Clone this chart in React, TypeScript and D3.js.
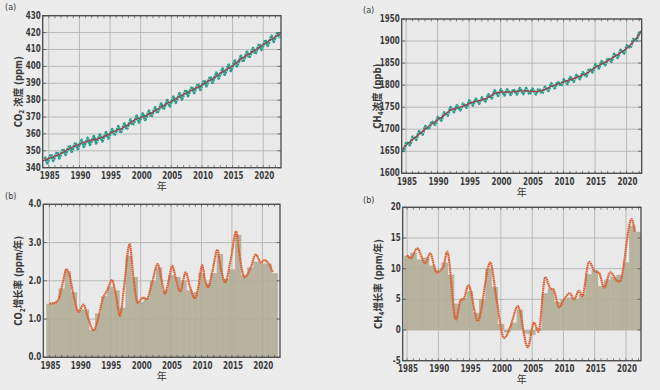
import React from "react";
import * as d3 from "d3";

const W = 660;
const H = 390;
const FONT = "'Liberation Sans Narrow','DejaVu Sans Condensed','Noto Sans CJK SC',sans-serif";

// ---- (a) CO2: deseasonalised trend at Jan of each year, plus seasonal max/min
const co2TrendYears = [...d3.range(1984, 2023), 2022.9];
const co2Trend = [
  344.0, 345.5, 346.9, 348.4, 350.6, 352.4, 353.9, 355.2, 356.3, 357.1,
  358.4, 360.2, 362.0, 363.4, 365.6, 368.2, 369.6, 371.1, 372.9, 375.2,
  377.4, 379.2, 381.4, 383.4, 385.4, 387.1, 389.0, 391.3, 393.2, 396.0,
  398.1, 400.3, 403.3, 405.8, 408.0, 410.4, 412.9, 415.3, 417.6, 419.6,
];
const co2CycleYears = d3.range(1984, 2023);
const co2PeakPhase = 0.35;
const co2TroughPhase = 0.72;
const co2Peak = [
  346.5, 348.0, 349.4, 351.2, 353.2, 354.9, 356.4, 357.6, 358.6, 359.6,
  361.0, 362.8, 364.5, 366.2, 368.5, 370.7, 372.1, 373.7, 375.7, 378.0,
  380.0, 382.0, 384.1, 386.1, 388.0, 389.8, 391.8, 394.0, 396.2, 398.7,
  400.9, 403.4, 406.2, 408.6, 410.8, 413.3, 415.7, 418.1, 420.3,
];
const co2Trough = [
  342.7, 344.1, 345.6, 347.6, 349.5, 351.1, 352.4, 353.6, 354.5, 355.6,
  357.3, 359.1, 360.6, 362.6, 365.1, 366.8, 368.3, 370.0, 372.2, 374.4,
  376.3, 378.4, 380.4, 382.4, 384.2, 386.1, 388.3, 390.3, 392.8, 395.1,
  397.3, 400.1, 402.7, 405.0, 407.3, 409.8, 412.2, 414.6, 416.6,
];

// ---- (a) CH4
const ch4TrendYears = [...d3.range(1984, 2023), 2022.4];
const ch4Trend = [
  1650, 1664, 1676, 1688, 1700, 1711, 1721, 1731, 1743, 1748,
  1752, 1758, 1763, 1766, 1772, 1781, 1784, 1784, 1785, 1787,
  1787, 1786, 1786, 1790, 1797, 1802, 1807, 1812, 1817, 1823,
  1830, 1840, 1848, 1855, 1864, 1873, 1883, 1897, 1915, 1924,
];
const ch4CycleYears = d3.range(1984, 2023);
const ch4PeakPhase = 0.05;
const ch4TroughPhase = 0.6;
const ch4Peak = [
  1657, 1671, 1683, 1695, 1707, 1718, 1728, 1738, 1750, 1754,
  1758, 1765, 1769, 1772, 1779, 1788, 1790, 1790, 1791, 1793,
  1793, 1792, 1792, 1796, 1804, 1808, 1813, 1818, 1823, 1829,
  1837, 1847, 1854, 1861, 1871, 1880, 1890, 1904, 1922,
];
const ch4Trough = [
  1651, 1664, 1676, 1688, 1700, 1710, 1720, 1731, 1739, 1743,
  1749, 1754, 1758, 1763, 1770, 1776, 1777, 1778, 1779, 1780,
  1779, 1779, 1781, 1787, 1793, 1798, 1803, 1808, 1814, 1820,
  1829, 1838, 1845, 1853, 1862, 1872, 1884, 1901, 1913,
];

// ---- (b) growth rates: annual bars + smoothed curve
const barYears = d3.range(1985, 2023);
const co2Bars = [
  1.40, 1.45, 1.80, 2.25, 1.70, 1.25, 1.25, 0.72, 1.15, 1.60,
  1.85, 1.75, 1.30, 2.65, 2.10, 1.45, 1.55, 2.00, 2.35, 1.75,
  2.15, 2.10, 2.00, 1.75, 1.70, 2.20, 1.95, 2.20, 2.70, 2.05,
  2.30, 3.20, 2.15, 2.35, 2.50, 2.45, 2.45, 2.20,
];
const ch4Bars = [
  12.1, 12.6, 11.5, 11.8, 10.5, 9.8, 11.0, 9.0, 4.3, 5.2,
  6.3, 2.8, 5.0, 10.0, 7.0, 1.0, -0.4, 1.2, 3.3, -0.6,
  -0.8, 0.3, 6.0, 6.8, 4.6, 5.0, 5.3, 5.1, 5.8, 9.1,
  9.8, 7.2, 8.2, 8.7, 9.0, 11.0, 17.0, 16.0,
];
const co2RateYears = [
  1985.0, 1985.9, 1986.5, 1987.2, 1987.8, 1988.3, 1989.0, 1989.8, 1990.6, 1991.3,
  1992.3, 1992.9, 1993.8, 1994.5, 1995.3, 1995.9, 1996.6, 1997.3, 1998.2, 1998.8,
  1999.5, 2000.4, 2001.0, 2001.8, 2002.8, 2003.4, 2004.0, 2004.6, 2005.2, 2005.8,
  2006.5, 2007.4, 2008.1, 2008.9, 2009.5, 2010.1, 2010.6, 2011.1, 2011.8, 2012.6,
  2013.2, 2013.9, 2014.8, 2015.7, 2016.3, 2017.1, 2018.1, 2018.9, 2019.8, 2020.3,
  2021.1, 2021.7,
];
const co2Rate = [
  1.40, 1.42, 1.52, 1.95, 2.30, 2.15, 1.60, 1.19, 1.38, 1.05,
  0.70, 0.95, 1.54, 1.75, 2.02, 1.65, 1.08, 1.90, 2.96, 2.10,
  1.43, 1.56, 1.52, 1.90, 2.44, 2.05, 1.66, 2.00, 2.39, 2.05,
  1.72, 2.22, 1.85, 1.54, 1.85, 2.41, 2.00, 1.83, 2.25, 2.81,
  2.30, 1.96, 2.55, 3.29, 2.60, 2.09, 2.35, 2.69, 2.47, 2.54,
  2.43, 2.22,
];
const ch4RateYears = [
  1985.0, 1985.6, 1986.6, 1987.9, 1988.7, 1989.7, 1990.8, 1991.4, 1992.8, 1993.6,
  1994.0, 1994.8, 1996.3, 1998.3, 1999.3, 2000.5, 2001.5, 2002.7, 2004.3, 2005.3,
  2006.0, 2007.1, 2007.9, 2008.4, 2009.3, 2010.1, 2011.0, 2011.7, 2012.5, 2013.0,
  2014.1, 2015.0, 2015.7, 2016.5, 2017.5, 2018.6, 2019.0, 2020.9, 2021.4,
];
const ch4Rate = [
  12.2, 11.7, 13.3, 10.9, 12.5, 9.4, 10.3, 12.8, 1.7, 4.9,
  5.0, 7.3, 1.5, 11.0, 5.0, -1.3, 0.5, 3.9, -2.8, 1.2,
  -0.3, 8.6, 6.8, 6.6, 3.7, 5.0, 6.0, 5.0, 6.4, 5.5,
  11.1, 9.6, 9.3, 6.9, 9.4, 8.0, 7.9, 18.1, 16.0,
];

const xTickYears = d3.range(1985, 2021, 5);

type Box = { x0: number; y0: number; x1: number; y1: number };
type Sc = d3.ScaleLinear<number, number>;

// condensed look: the installed sans faces are wider than the original's
const NARROW = 0.8;

function Sub({ main, sub, rest }: { main: string; sub: string; rest: string }) {
  return (
    <>
      {main}
      <tspan dy={2.5} fontSize={7}>{sub}</tspan>
      <tspan dy={-2.5}>{rest}</tspan>
    </>
  );
}

function Panel(props: {
  id: string;
  box: Box;
  xDomain: [number, number];
  yDomain: [number, number];
  yTicks: number[];
  yFmt: (v: number) => string;
  yLabel: React.ReactNode;
  tag: string;
  tagX: number;
  tagY: number;
  children: (x: Sc, y: Sc) => React.ReactNode;
}) {
  const { id, box, xDomain, yDomain, yTicks, yFmt, yLabel, tag, tagX, tagY } = props;
  const x = d3.scaleLinear().domain(xDomain).range([box.x0, box.x1]);
  const y = d3.scaleLinear().domain(yDomain).range([box.y1, box.y0]);
  const minorYears = d3.range(Math.ceil(xDomain[0]), Math.floor(xDomain[1]) + 1);
  const cx = (box.x0 + box.x1) / 2;
  const cy = (box.y0 + box.y1) / 2;
  return (
    <g>
      <defs>
        <clipPath id={id}>
          <rect x={box.x0} y={box.y0} width={box.x1 - box.x0} height={box.y1 - box.y0} />
        </clipPath>
      </defs>
      <rect x={box.x0} y={box.y0} width={box.x1 - box.x0} height={box.y1 - box.y0} fill="#e9e9e9" />
      {/* grid */}
      {xTickYears.map((t) => (
        <line key={"gx" + t} x1={x(t)} x2={x(t)} y1={box.y0} y2={box.y1} stroke="#b3b3b3" strokeWidth={0.9} />
      ))}
      {yTicks.map((t) => (
        <line key={"gy" + t} x1={box.x0} x2={box.x1} y1={y(t)} y2={y(t)} stroke="#b3b3b3" strokeWidth={0.9} />
      ))}
      <g clipPath={`url(#${id})`}>{props.children(x, y)}</g>
      {/* minor year ticks top/bottom */}
      {minorYears.map((t) => (
        <g key={"m" + t} stroke="#555" strokeWidth={0.7}>
          <line x1={x(t)} x2={x(t)} y1={box.y0} y2={box.y0 + 2.5} />
          <line x1={x(t)} x2={x(t)} y1={box.y1} y2={box.y1 - 2.5} />
        </g>
      ))}
      {yTicks.map((t) => (
        <g key={"ty" + t} stroke="#555" strokeWidth={0.8}>
          <line x1={box.x0} x2={box.x0 + 3.5} y1={y(t)} y2={y(t)} />
          <line x1={box.x1} x2={box.x1 - 3.5} y1={y(t)} y2={y(t)} />
        </g>
      ))}
      <rect x={box.x0} y={box.y0} width={box.x1 - box.x0} height={box.y1 - box.y0} fill="none" stroke="#4a4a4a" strokeWidth={1.3} />
      {/* tick labels */}
      <g fontSize={10} fontWeight={700} fill="#3a3a3a">
        {yTicks.map((t) => (
          <text key={"ly" + t} transform={`translate(${box.x0 - 2},${y(t) + 3}) scale(${NARROW},1)`} textAnchor="end">
            {yFmt(t)}
          </text>
        ))}
        {xTickYears.map((t) => (
          <text key={"lx" + t} transform={`translate(${x(t) + 1},${box.y1 + 11.5}) scale(${NARROW},1)`} textAnchor="middle">
            {t}
          </text>
        ))}
      </g>
      <text x={cx} y={box.y1 + 22.5} textAnchor="middle" fontSize={10} fill="#3a3a3a">年</text>
      <text
        transform={`translate(${box.x0 - 21},${cy}) rotate(-90) scale(0.9,1)`}
        textAnchor="middle"
        fontSize={10.5}
        fontWeight={700}
        fill="#3a3a3a"
      >
        {yLabel}
      </text>
      <text x={tagX} y={tagY} fontSize={9} fill="#3a3a3a">{tag}</text>
    </g>
  );
}

function concentration(years: number[], trend: number[], cycYears: number[], peak: number[], trough: number[], pPh: number, tPh: number) {
  return (x: Sc, y: Sc) => {
    const zig: [number, number][] = [];
    cycYears.forEach((yr, i) => {
      zig.push([yr + pPh, peak[i]]);
      zig.push([yr + tPh, trough[i]]);
    });
    const line = d3.line<[number, number]>().x((d) => x(d[0])).y((d) => y(d[1]));
    const trendPts = years.map((yr, i) => [yr, trend[i]] as [number, number]);
    return (
      <>
        <path d={line(zig) ?? ""} fill="none" stroke="#2e9c8e" strokeWidth={2.8} strokeLinejoin="round" strokeDasharray="2.2 0.6" />
        <path d={line.curve(d3.curveMonotoneX)(trendPts) ?? ""} fill="none" stroke="#a23c40" strokeWidth={1.2} />
      </>
    );
  };
}

function growth(bars: number[], rYears: number[], rate: number[]) {
  return (x: Sc, y: Sc) => {
    const line = d3.line<number>().x((_, i) => x(rYears[i])).y((d) => y(d)).curve(d3.curveMonotoneX);
    return (
      <>
        {barYears.map((yr, i) => (
          <rect
            key={yr}
            x={x(yr - 0.5)}
            width={x(yr + 0.5) - x(yr - 0.5) + 0.3}
            y={Math.min(y(0), y(bars[i]))}
            height={Math.abs(y(0) - y(bars[i]))}
            fill="#b2ad96"
            fillOpacity={0.9}
          />
        ))}
        <path d={line(rate) ?? ""} fill="none" stroke="#dd5a2a" strokeWidth={2.1} strokeDasharray="1.6 0.5" />
      </>
    );
  };
}

export default function App() {
  return (
    <svg width={W} height={H} style={{ position: "absolute", left: 0, top: 0, display: "block" }} fontFamily={FONT}>
      <rect width={W} height={H} fill="#ececec" />
      <Panel
        id="c1"
        box={{ x0: 42.7, y0: 15.7, x1: 281, y1: 167.7 }}
        xDomain={[1984, 2022.9]}
        yDomain={[340, 430]}
        yTicks={d3.range(340, 431, 10)}
        yFmt={(v) => String(v)}
        yLabel={<Sub main="CO" sub="2" rest=" 浓度 (ppm)" />}
        tag="(a)"
        tagX={5}
        tagY={10}
      >
        {concentration(co2TrendYears, co2Trend, co2CycleYears, co2Peak, co2Trough, co2PeakPhase, co2TroughPhase)}
      </Panel>
      <Panel
        id="c2"
        box={{ x0: 401.7, y0: 19, x1: 641.7, y1: 173.3 }}
        xDomain={[1984.3, 2022.4]}
        yDomain={[1600, 1950]}
        yTicks={d3.range(1600, 1951, 50)}
        yFmt={(v) => String(v)}
        yLabel={<Sub main="CH" sub="4" rest="浓度 (ppb)" />}
        tag="(a)"
        tagX={363}
        tagY={13}
      >
        {concentration(ch4TrendYears, ch4Trend, ch4CycleYears, ch4Peak, ch4Trough, ch4PeakPhase, ch4TroughPhase)}
      </Panel>
      <Panel
        id="c3"
        box={{ x0: 43.3, y0: 204.3, x1: 280, y1: 357.3 }}
        xDomain={[1984, 2022.9]}
        yDomain={[0, 4]}
        yTicks={d3.range(0, 4.01, 1)}
        yFmt={(v) => v.toFixed(1)}
        yLabel={<Sub main="CO" sub="2" rest="增长率 (ppm/年)" />}
        tag="(b)"
        tagX={5}
        tagY={199}
      >
        {growth(co2Bars, co2RateYears, co2Rate)}
      </Panel>
      <Panel
        id="c4"
        box={{ x0: 402.7, y0: 207.3, x1: 641, y1: 360.7 }}
        xDomain={[1984.3, 2022.4]}
        yDomain={[-5, 20]}
        yTicks={d3.range(-5, 21, 5)}
        yFmt={(v) => String(v)}
        yLabel={<Sub main="CH" sub="4" rest="增长率 (ppm/年)" />}
        tag="(b)"
        tagX={363}
        tagY={203}
      >
        {growth(ch4Bars, ch4RateYears, ch4Rate)}
      </Panel>
    </svg>
  );
}
